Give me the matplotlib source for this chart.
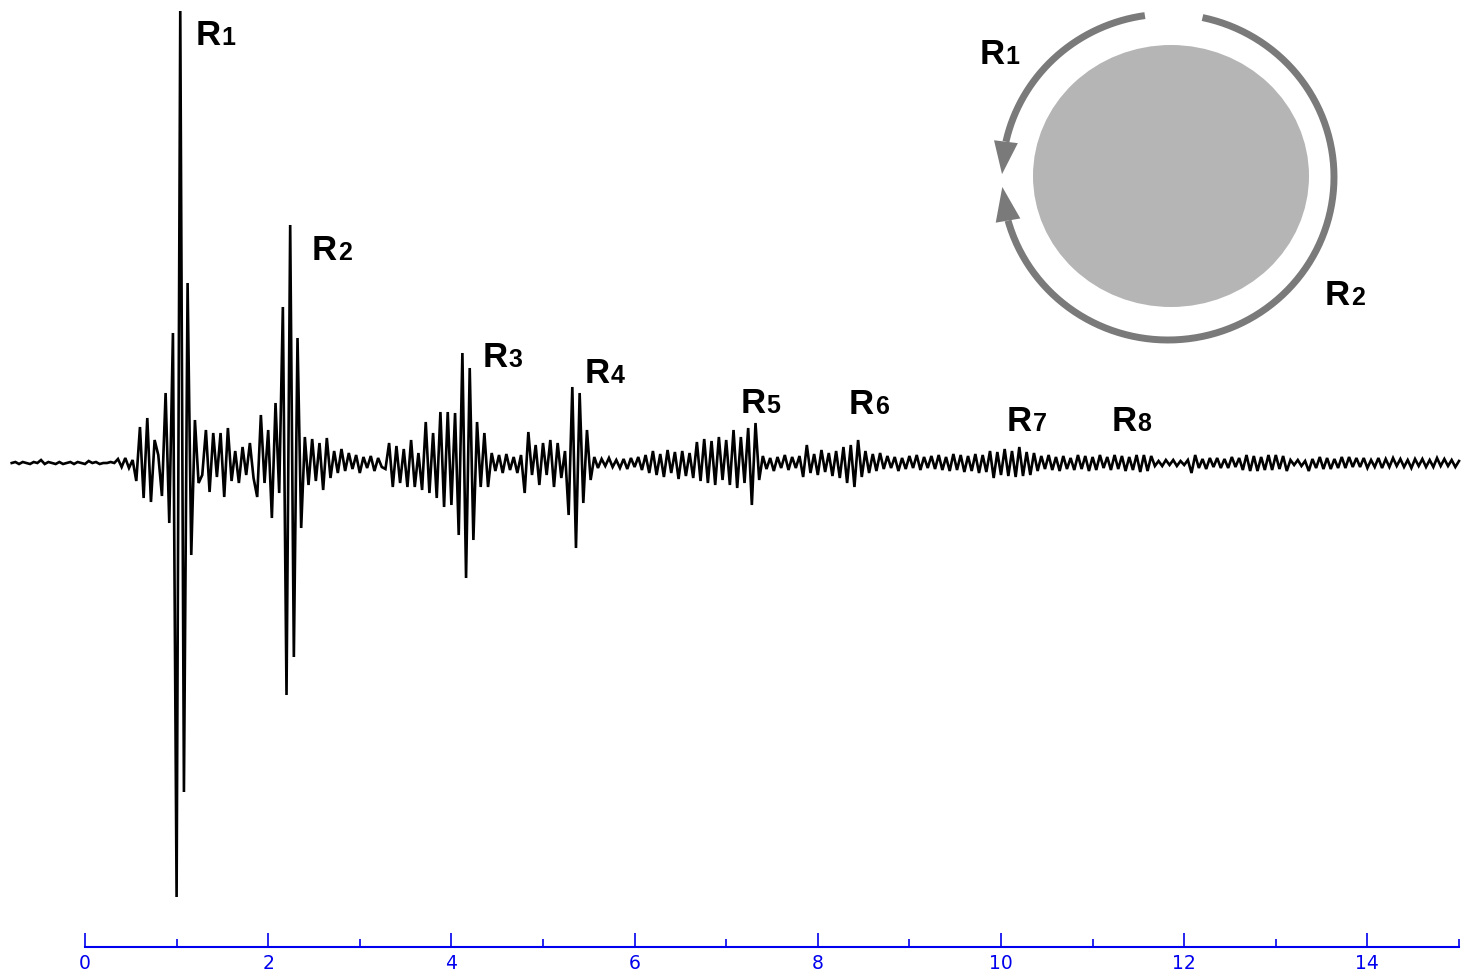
import numpy as np
import matplotlib
matplotlib.use("Agg")
import matplotlib.pyplot as plt
from matplotlib.patches import Ellipse, Polygon

# ---- recorded trace (uniform sampling, arbitrary amplitude units) ----
t_start = -0.80   # time of first sample
dt = 0.04         # sample interval

pre_event = [0, 1, -1, 1, 0, -1, 1, 0, 3, -1, 1, 0, -1, 1, -1, 0, 1, -1, 1, 0,
             -1, 2, 0, 1, -1, 0, 0, 1, 0, 4, -4, 5, -5, 3]
arrival_r1 = [-18, 36, -35, 45, -39, 23, 8, -33, 70, -60, 130, -434, 452, -329,
              180, -92, 43, -20]
coda_r1 = [-12, 33, -29, 30, -14, 30, -34, 35, -18, 12, -20, 16, -12, 20, -15]
arrival_r2 = [-34, 48, -20, 33, -55, 60, -30, 156, -232, 238, -194, 125, -65]
coda_r2 = [26, -22, 24, -18, 20, -27, 25, -15, 12, -10, 14, -8, 10, -6, 8, -10,
           6, -5, 7, -8, 5, -4, -6]
arrival_r3 = [20, -24, 17, -20, 14, -24, 23, -24, 10, -27, 41, -30, 30, -35, 51,
              -44, 51, -42, 50, -72, 110, -115, 95, -77, 41, -24, 30, -24]
coda_r3 = [10, -8, 8, -10, 9, -7, 6, -10, 8, -30, 31, -12, 18, -22, 20, -12, 23,
           -24, 20, -15, 12]
arrival_r4 = [-52, 76, -85, 70, -40, 33, -17]
coda_r4 = [6, -5, 4, -3, 5, -4, 3, -5, 4, -6, 5, -4, 6, -7, 8]
arrival_r5 = [-10, 12, -12, 9, -14, 13, -10, 11, -16, 12, -13, 10, -15,
              21, -18, 24, -20, 22, -22, 26, -17, 23,
              -22, 33, -25, 26, -20, 35, -42, 40, -17]
coda_r5 = [7, -6, 5, -8, 6, -5, 8, -7, 6, -5, 7, -14, 18, -10, 9, -12, 13, -9,
           10, -13, 12]
arrival_r6 = [-15, 16, -20, 18, -24, 23, -14, 12, -10, 9, -8, 10]
coda_r6 = [-6, 7, -5, 6, -8, 5, -6, 7, -5, 8, -7, 6, -5, 7, -6, 8, -7, 6,
           -8, 9, -7, 8, -9, 7, -8, 9, -10, 8, -9]
arrival_r7 = [12, -15, 11, -12, 14, -13, 12, -14, 16, -13, 11, -12, 10]
late_coda = [-8, 7, -6, 8, -7, 6, -8, 7, -6, 5, -7, 8, -6, 7, -8, 6, -7, 8, -5, 6,
             -7, 8, -6, 7, -8, 6, -7, 8, -9, 8, -8, 7, -3, 2, -3, 3, -2, 3, -3, 2,
             -2, 3, -10, 8, -5, 4, -6, 5, -4, 5, -5, 4, -5, 6, -4, 5, -7, 8, -8, 7,
             -8, 6, -7, 8, -7, 8, -6, 7, -8, 3, -2, 3, -3, 2, -8, 4, -5, 6, -6, 5,
             -6, 4, -5, 6, -5, 6, -4, 5, -4, 5, -5, 3, -4, 5, -5, 4, -4, 5, -3, 4,
             -4, 3, -5, 4, -3, 4, -4, 3, -4, 5, -3, 4, -3, 3, -4, 2]

phase_numbers = ["1", "2", "3", "4", "5", "6", "7", "8"]
major_ticks = [0, 2, 4, 6, 8, 10, 12, 14]
minor_ticks = [1, 3, 5, 7, 9, 11, 13, 15]
tick_labels = [str(v) for v in major_ticks]

trace = np.concatenate([pre_event, arrival_r1, coda_r1, arrival_r2, coda_r2,
                        arrival_r3, coda_r3, arrival_r4, coda_r4, arrival_r5,
                        coda_r5, arrival_r6, coda_r6, arrival_r7, late_coda])
times = t_start + dt * np.arange(trace.size)

# ---- layout ----
W, H = 1466, 975
px_per_unit = 91.6
x0_px = 85
base_px = 463

fig = plt.figure(figsize=(W / 100, H / 100), dpi=100, facecolor="white")
ax = fig.add_axes([0, 0, 1, 1])
ax.set_xlim(-x0_px / px_per_unit, (W - x0_px) / px_per_unit)
ax.set_ylim(-(H - base_px), base_px)

ax.plot(times, trace, color="black", lw=1.9, solid_joinstyle="miter")

# time axis drawn as a blue ruler below the trace
blue = "#0000ee"
for side in ("left", "right", "top"):
    ax.spines[side].set_visible(False)
ax.spines["bottom"].set_position(("data", base_px - 947))
ax.spines["bottom"].set_bounds(0, 15)
ax.spines["bottom"].set_color(blue)
ax.spines["bottom"].set_linewidth(1.5)
ax.set_xticks(major_ticks)
ax.set_xticklabels(tick_labels)
ax.set_xticks(minor_ticks, minor=True)
ax.tick_params(axis="x", which="major", direction="in", length=10, width=1.2,
               colors=blue, labelsize=13.5, pad=5)
ax.tick_params(axis="x", which="minor", direction="in", length=5.5, width=1.2,
               colors=blue)
ax.set_yticks([])


def phase_label(axis, x, y, number):
    style = dict(fontsize=25, fontweight="bold", family=["Liberation Sans", "DejaVu Sans"],
                 ha="left", va="baseline", color="black")
    axis.text(x, y, "R", **style)
    style["fontsize"] = 18
    axis.annotate(number, xy=(x, y), xytext=(18.5, 0), textcoords="offset points",
                  **style)


label_x = [1.212, 2.478, 4.345, 5.459, 7.162, 8.341, 10.066, 11.212]
label_y = [418, 203, 96, 80, 50, 49, 32, 32]
for x, y, n in zip(label_x, label_y, phase_numbers):
    phase_label(ax, x, y, n)

# ---- inset sketch: two waves travelling round the body ----
ov = fig.add_axes([0, 0, 1, 1])
ov.set_xlim(0, W)
ov.set_ylim(H, 0)
ov.axis("off")
ov.patch.set_alpha(0)

ov.add_patch(Ellipse((1171, 176), 276, 262, facecolor="#b5b5b5", edgecolor="none"))

cx, cy, rx, ry = 1168, 177, 166, 163
ring_color = "#7a7a7a"


def ring(deg):
    a = np.radians(deg)
    return cx + rx * np.cos(a), cy - ry * np.sin(a)


def arrow_arc(start, base, tip, half_width):
    th = np.linspace(start, base, 200)
    xs, ys = ring(th)
    ov.plot(xs, ys, color=ring_color, lw=5, solid_capstyle="butt")
    tx, ty = ring(tip)
    bx, by = ring(base)
    d = np.array([tx - bx, ty - by])
    d /= np.hypot(*d)
    n = np.array([-d[1], d[0]])
    verts = [(tx, ty), (bx + n[0] * half_width, by + n[1] * half_width),
             (bx - n[0] * half_width, by - n[1] * half_width)]
    ov.add_patch(Polygon(verts, closed=True, facecolor=ring_color, edgecolor="none"))


arrow_arc(98, 167.5, 179, 12)
arrow_arc(78, -164.5, -176.5, 12.5)

phase_label(ov, 980, 64, "1")
phase_label(ov, 1325, 305, "2")

fig.savefig("out.png", dpi=100, facecolor="white")
